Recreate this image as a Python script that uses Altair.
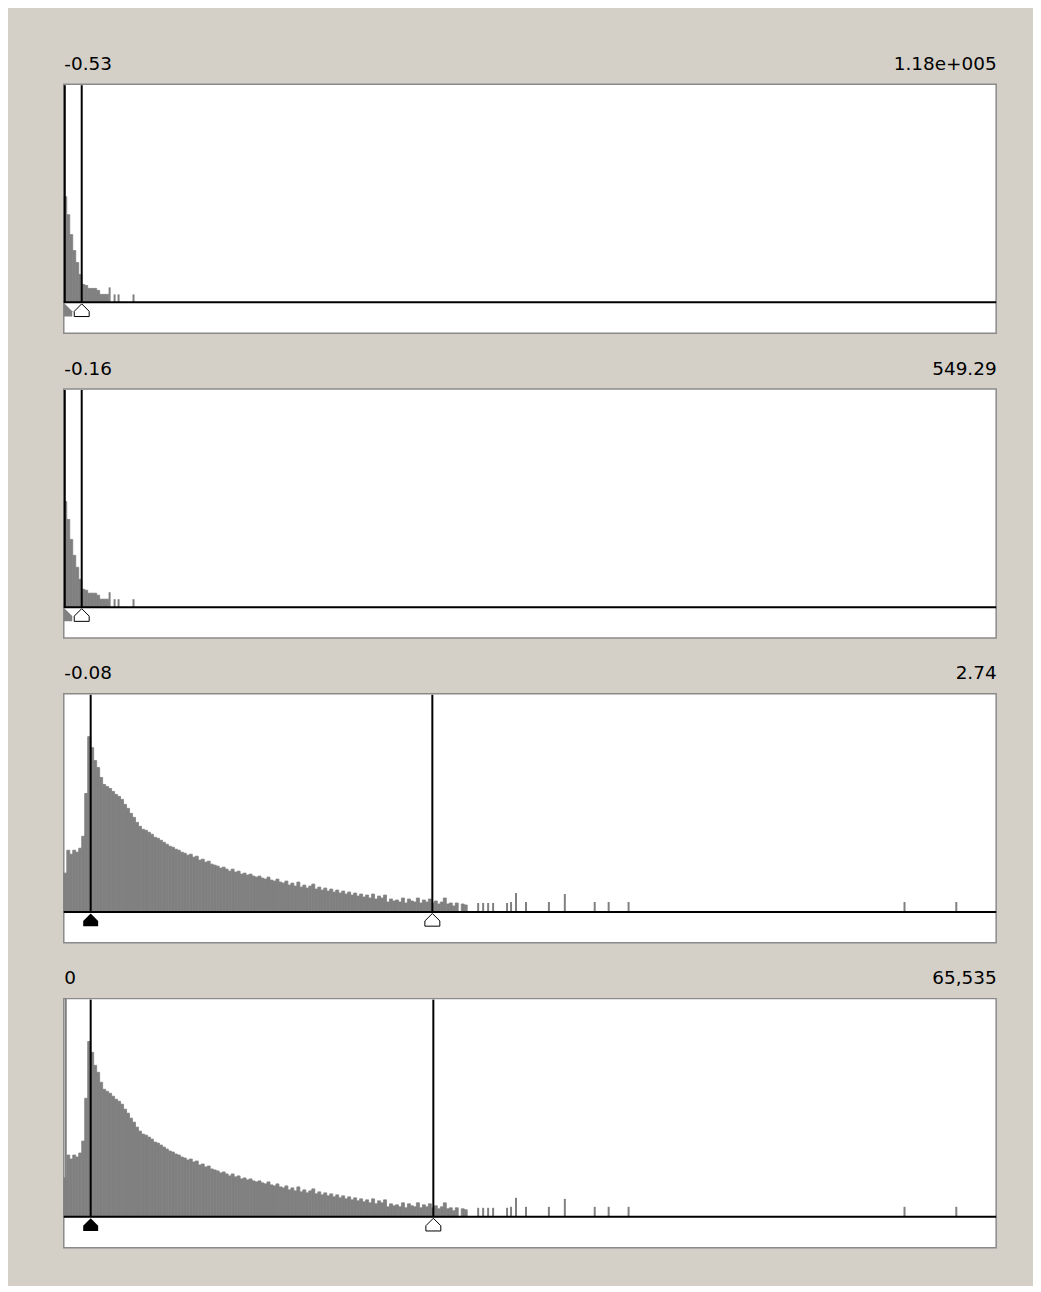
import altair as alt
import pandas as pd

# ---------------- data ----------------
# heights are in "histogram units" where 219 = full height of the histogram area
# x positions are in bin-axis units 0..936 (left edge to right edge of each plot)
BIN = 3
X_MAX = 936
Y_MIN, Y_MAX = -31, 219

min_labels = ["-0.53", "-0.16", "-0.08", "0"]
max_labels = ["1.18e+005", "549.29", "2.74", "65,535"]

# panels 1 & 2 : dense bins (width BIN) then isolated spikes
hist_a = [106, 88, 68, 52, 40, 28, 18, 17, 14, 14, 14, 12, 8, 8, 8]
spike_a_x = [46, 51, 55, 70]
spike_a_h = [15, 8, 8, 8]

# panels 3 & 4
hist_b = [39, 62, 58, 62, 60, 64, 76, 119, 176, 165, 152, 145, 135, 128, 126, 124,
          121, 118, 116, 113, 108, 104, 99, 95, 90, 86, 83, 82, 80, 78, 75, 74,
          72, 70, 68, 66, 65, 63, 62, 60, 59, 57, 58, 55, 56, 52, 53, 50,
          51, 48, 47, 46, 44, 45, 43, 41, 43, 40, 41, 38, 39, 37, 38, 36,
          35, 36, 34, 33, 35, 32, 31, 33, 30, 29, 31, 27, 29, 26, 30, 25,
          27, 24, 26, 28, 23, 25, 22, 24, 21, 23, 20, 22, 19, 21, 18, 20,
          17, 19, 16, 18, 15, 17, 14, 18, 13, 16, 14, 17, 10, 13, 11, 12,
          10, 14, 9, 13, 11, 10, 14, 9, 12, 10, 13, 9, 11, 8, 10, 14,
          8, 9, 6, 9, 0, 8, 7, 0]
spike_b_x = [416, 421, 426, 431, 445, 449, 454, 464, 487, 503, 533, 547, 567, 844, 896]
spike_b_h = [9, 9, 9, 9, 9, 10, 19, 10, 10, 18, 10, 10, 10, 10, 10]

# panel 4 has one clipped bin at the very left edge
edge_spike_x = [2]
edge_spike_h = [219]

low_threshold = [1, 1, 27, 27]
high_threshold = [18, 18, 370, 371]
low_marker_fill = ["#808080", "#808080", "#000000", "#000000"]

panels = [
    (hist_a, spike_a_x, spike_a_h),
    (hist_a, spike_a_x, spike_a_h),
    (hist_b, spike_b_x, spike_b_h),
    (hist_b, spike_b_x + edge_spike_x, spike_b_h + edge_spike_h),
]

GRAY = "#808080"
MARKER = "M0,-1L1,0L1,0.7L-1,0.7L-1,0Z"

xs = alt.Scale(domain=[0, X_MAX], nice=False, zero=False)
ys = alt.Scale(domain=[Y_MIN, Y_MAX], nice=False, zero=False)


def make_panel(i):
    hist, sx, sh = panels[i]
    lo_lab, hi_lab = min_labels[i], max_labels[i]
    axis = alt.Axis(orient="top", values=[0, X_MAX], ticks=False, domain=False,
                    grid=False, labelFlush=True, title=None,
                    labelExpr=f"datum.value == 0 ? '{lo_lab}' : '{hi_lab}'",
                    labelFont="DejaVu Sans", labelFontSize=18.5, labelColor="#000000",
                    labelPadding=11)

    bins = pd.DataFrame({"x0": [k * BIN for k in range(len(hist))],
                         "x1": [(k + 1) * BIN for k in range(len(hist))],
                         "h": hist})
    bins = bins[bins["h"] > 0]
    spikes = pd.DataFrame({"x": sx, "h": sh})
    thr = pd.DataFrame({"x": [low_threshold[i], high_threshold[i]], "top": [218, 218]})
    lo = pd.DataFrame({"x": [low_threshold[i]], "y": [-9]})
    hi = pd.DataFrame({"x": [high_threshold[i]], "y": [-9]})

    bars = alt.Chart(bins).mark_bar(color=GRAY, stroke=GRAY, strokeWidth=0.8).encode(
        x=alt.X("x0:Q", scale=xs, axis=axis), x2="x1:Q",
        y=alt.Y("h:Q", scale=ys, axis=None), y2=alt.datum(0))
    sp = alt.Chart(spikes).mark_rule(color=GRAY, strokeWidth=2).encode(
        x=alt.X("x:Q", scale=xs, axis=axis),
        y=alt.Y("h:Q", scale=ys, axis=None), y2=alt.datum(0))
    base = alt.Chart(pd.DataFrame({"y": [0]})).mark_rule(color="#000000", strokeWidth=2).encode(
        y=alt.Y("y:Q", scale=ys, axis=None))
    lines = alt.Chart(thr).mark_rule(color="#000000", strokeWidth=2).encode(
        x=alt.X("x:Q", scale=xs, axis=axis),
        y=alt.Y("top:Q", scale=ys, axis=None), y2=alt.datum(0))
    m_lo = alt.Chart(lo).mark_point(shape=MARKER, size=225, filled=True, opacity=1,
                                    color=low_marker_fill[i], clip=True).encode(
        x=alt.X("x:Q", scale=xs, axis=axis), y=alt.Y("y:Q", scale=ys, axis=None))
    m_hi = alt.Chart(hi).mark_point(shape=MARKER, size=225, filled=True, opacity=1,
                                    fill="#ffffff", stroke="#000000", strokeWidth=1).encode(
        x=alt.X("x:Q", scale=xs, axis=axis), y=alt.Y("y:Q", scale=ys, axis=None))
    return alt.layer(bars, sp, base, lines, m_lo, m_hi).properties(width=X_MAX, height=250)


chart = alt.vconcat(*[make_panel(i) for i in range(4)], spacing=24).properties(
    background="#D4D0C8",
    padding={"left": 54, "top": 43, "right": 35, "bottom": 35},
).configure_view(fill="#ffffff", stroke="#8a8a8a", strokeWidth=1.5
).configure_concat(spacing=24)

chart.save("out.html", embed_options={"renderer": "svg", "actions": False})
